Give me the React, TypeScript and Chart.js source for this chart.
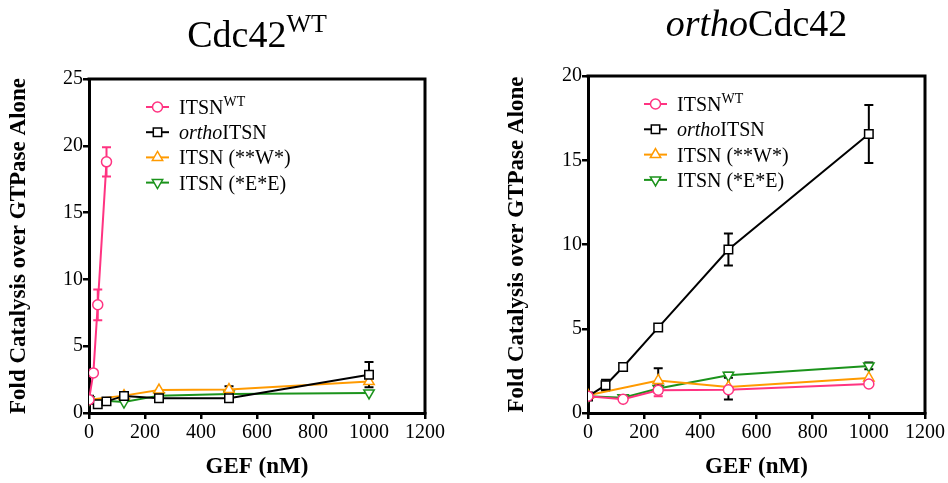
import React, { useEffect, useRef } from 'react';
import { Chart, registerables } from 'chart.js';

Chart.register(...registerables);

const SERIF = '"Liberation Serif", "Times New Roman", serif';
const PINK = '#ff3381';
const ORANGE = '#ff9a00';
const GREEN = '#1b931b';
const BLACK = '#000000';

// ---- Left panel: Cdc42 WT ----
const wtDoseITSNWT = [0, 15.6, 31.25, 62.5];
const wtFoldITSNWT = [1.0, 3.0, 8.1, 18.8];
const wtErrITSNWT = [0, 0, 1.15, 1.1];

const wtDoseOrtho = [0, 31.25, 62.5, 125, 250, 500, 1000];
const wtFoldOrtho = [1.0, 0.65, 0.87, 1.28, 1.1, 1.1, 2.87];
const wtErrOrtho = [0, 0, 0, 0, 0, 0, 0.95];

const wtDoseWmut = [0, 125, 250, 500, 1000];
const wtFoldWmut = [1.0, 1.3, 1.72, 1.75, 2.35];
const wtErrWmut = [0, 0, 0, 0.25, 0];

const wtDoseEmut = [0, 125, 250, 500, 1000];
const wtFoldEmut = [1.0, 0.82, 1.3, 1.42, 1.5];
const wtErrEmut = [0, 0, 0, 0, 0];

// ---- Right panel: orthoCdc42 ----
const orDoseITSNWT = [0, 125, 250, 500, 1000];
const orFoldITSNWT = [1.0, 0.82, 1.35, 1.38, 1.72];
const orErrITSNWT = [0, 0, 0.35, 0, 0];

const orDoseOrtho = [0, 62.5, 125, 250, 500, 1000];
const orFoldOrtho = [0.98, 1.65, 2.73, 5.07, 9.7, 16.56];
const orErrOrtho = [0, 0.32, 0, 0, 0.95, 1.72];

const orDoseWmut = [0, 250, 500, 1000];
const orFoldWmut = [1.05, 1.93, 1.55, 2.08];
const orErrWmut = [0, 0.73, 0.75, 0];

const orDoseEmut = [0, 125, 250, 500, 1000];
const orFoldEmut = [1.0, 0.9, 1.45, 2.24, 2.79];
const orErrEmut = [0, 0, 0, 0.15, 0.2];

const xTicksMax = 1200;
const xStep = 200;
const yStep = 5;

type Part = { t: string; italic?: boolean; sup?: boolean };
const legendLabels: Part[][] = [
  [{ t: 'ITSN' }, { t: 'WT', sup: true }],
  [{ t: 'ortho', italic: true }, { t: 'ITSN' }],
  [{ t: 'ITSN (**W*)' }],
  [{ t: 'ITSN (*E*E)' }],
];
const seriesColors = [PINK, BLACK, ORANGE, GREEN];
const errColors = [PINK, BLACK, BLACK, BLACK];
const seriesStyles = ['circle', 'rect', 'triangle', 'triangleDown'];

function drawMarker(ctx: CanvasRenderingContext2D, style: string, x: number, y: number, color: string) {
  ctx.save();
  ctx.strokeStyle = color;
  ctx.fillStyle = '#ffffff';
  ctx.lineWidth = 1.5;
  ctx.beginPath();
  if (style === 'circle') {
    ctx.arc(x, y, 5, 0, Math.PI * 2);
  } else if (style === 'rect') {
    const s = 4.2;
    ctx.rect(x - s, y - s, 2 * s, 2 * s);
  } else {
    const r = 6;
    const off = style === 'triangleDown' ? Math.PI : 0;
    for (let i = 0; i < 3; i++) {
      const a = off + (i * 2 * Math.PI) / 3;
      const px = x + Math.sin(a) * r;
      const py = y - Math.cos(a) * r;
      if (i === 0) ctx.moveTo(px, py);
      else ctx.lineTo(px, py);
    }
    ctx.closePath();
  }
  ctx.fill();
  ctx.stroke();
  ctx.restore();
}

function drawParts(ctx: CanvasRenderingContext2D, parts: Part[], x: number, baseline: number, size: number, supSize: number, supRaise: number, measureOnly = false) {
  let cx = x;
  for (const p of parts) {
    const fs = p.sup ? supSize : size;
    ctx.font = `${p.italic ? 'italic ' : ''}${fs}px ${SERIF}`;
    const w = ctx.measureText(p.t).width;
    if (!measureOnly) {
      ctx.fillText(p.t, cx, p.sup ? baseline - supRaise : baseline);
    }
    cx += w;
  }
  return cx - x;
}

type Panel = {
  title: Part[];
  titleBaseline: number;
  yMax: number;
  yAxisWidth: number;
  yTitlePad: number;
  padTop: number;
  padRight: number;
  legendX: number;
  legendY: number;
  legendStep: number;
  doses: number[][];
  folds: number[][];
  errs: number[][];
};

const panels: Panel[] = [
  {
    title: [{ t: 'Cdc42' }, { t: 'WT', sup: true }],
    titleBaseline: 46.5,
    yMax: 25,
    yAxisWidth: 89,
    yTitlePad: 5,
    padTop: 79,
    padRight: 49,
    legendX: 146,
    legendY: 107,
    legendStep: 25.2,
    doses: [wtDoseITSNWT, wtDoseOrtho, wtDoseWmut, wtDoseEmut],
    folds: [wtFoldITSNWT, wtFoldOrtho, wtFoldWmut, wtFoldEmut],
    errs: [wtErrITSNWT, wtErrOrtho, wtErrWmut, wtErrEmut],
  },
  {
    title: [{ t: 'ortho', italic: true }, { t: 'Cdc42' }],
    titleBaseline: 35.5,
    yMax: 20,
    yAxisWidth: 114,
    yTitlePad: 29.5,
    padTop: 76,
    padRight: 23,
    legendX: 170,
    legendY: 104,
    legendStep: 25.3,
    doses: [orDoseITSNWT, orDoseOrtho, orDoseWmut, orDoseEmut],
    folds: [orFoldITSNWT, orFoldOrtho, orFoldWmut, orFoldEmut],
    errs: [orErrITSNWT, orErrOrtho, orErrWmut, orErrEmut],
  },
];

function makeChart(canvas: HTMLCanvasElement, p: Panel) {
  const datasets = p.doses.map((xs, i) => ({
    label: legendLabels[i].map((q) => q.t).join(''),
    data: xs.map((x, j) => ({ x, y: p.folds[i][j] })),
    showLine: true,
    borderColor: seriesColors[i],
    backgroundColor: seriesColors[i],
    borderWidth: 2,
    tension: 0,
    fill: false,
    pointStyle: seriesStyles[i] === 'triangleDown' ? 'triangle' : seriesStyles[i],
    pointRotation: seriesStyles[i] === 'triangleDown' ? 180 : 0,
    pointRadius: seriesStyles[i] === 'rect' ? 6 : seriesStyles[i] === 'circle' ? 5 : 6,
    pointBackgroundColor: '#ffffff',
    pointBorderColor: seriesColors[i],
    pointBorderWidth: 1.5,
  }));

  const panelPlugin = {
    id: 'panelDecor',
    beforeDatasetsDraw(chart: any) {
      const ctx: CanvasRenderingContext2D = chart.ctx;
      const xs = chart.scales.x;
      const ys = chart.scales.y;
      ctx.save();
      ctx.lineWidth = 2;
      p.doses.forEach((d, i) => {
        ctx.strokeStyle = errColors[i];
        d.forEach((xv, j) => {
          const e = p.errs[i][j];
          if (!e) return;
          const v = p.folds[i][j];
          const px = xs.getPixelForValue(xv);
          const t = ys.getPixelForValue(v + e);
          const b = ys.getPixelForValue(Math.max(v - e, 0));
          ctx.beginPath();
          ctx.moveTo(px, t);
          ctx.lineTo(px, b);
          ctx.moveTo(px - 4.5, t);
          ctx.lineTo(px + 4.5, t);
          ctx.moveTo(px - 4.5, b);
          ctx.lineTo(px + 4.5, b);
          ctx.stroke();
        });
      });
      ctx.restore();
    },
    afterDraw(chart: any) {
      const ctx: CanvasRenderingContext2D = chart.ctx;
      const a = chart.chartArea;
      ctx.save();
      // frame top & right
      ctx.strokeStyle = BLACK;
      ctx.lineWidth = 3;
      ctx.beginPath();
      ctx.moveTo(a.left - 1.5, a.top);
      ctx.lineTo(a.right, a.top);
      ctx.lineTo(a.right, a.bottom + 1.5);
      ctx.stroke();

      // title
      ctx.fillStyle = BLACK;
      ctx.textBaseline = 'alphabetic';
      ctx.textAlign = 'left';
      const tw = drawParts(ctx, p.title, 0, 0, 38, 26, 15, true);
      const cx = (a.left + a.right) / 2;
      drawParts(ctx, p.title, cx - tw / 2, p.titleBaseline, 38, 26, 15);

      // legend
      legendLabels.forEach((parts, i) => {
        const y = p.legendY + i * p.legendStep;
        ctx.strokeStyle = seriesColors[i];
        ctx.lineWidth = 2;
        ctx.beginPath();
        ctx.moveTo(p.legendX, y);
        ctx.lineTo(p.legendX + 23, y);
        ctx.stroke();
        drawMarker(ctx, seriesStyles[i], p.legendX + 11.5, y, seriesColors[i]);
        ctx.fillStyle = BLACK;
        drawParts(ctx, parts, p.legendX + 33, y + 7, 20, 14, 8);
      });
      ctx.restore();
    },
  };

  return new Chart(canvas, {
    type: 'scatter',
    data: { datasets: datasets as any },
    options: {
      animation: false,
      responsive: false,
      devicePixelRatio: 1,
      layout: { padding: { top: p.padTop, right: p.padRight, left: 0, bottom: 0 } },
      plugins: { legend: { display: false }, tooltip: { enabled: false } },
      scales: {
        x: {
          type: 'linear',
          min: 0,
          max: xTicksMax,
          ticks: {
            stepSize: xStep,
            autoSkip: false,
            maxRotation: 0,
            color: BLACK,
            padding: 2,
            font: { family: SERIF, size: 20 },
            callback: (v: any) => String(v),
          },
          grid: {
            drawOnChartArea: false,
            drawTicks: true,
            tickLength: 6,
            color: BLACK,
            lineWidth: 2.5,
          },
          border: { color: BLACK, width: 3 },
          title: {
            display: true,
            text: 'GEF (nM)',
            color: BLACK,
            font: { family: SERIF, size: 23, weight: 'bold' },
            padding: { top: 0, bottom: 2.5 },
          },
          afterFit(scale: any) {
            scale.height = 70;
          },
        },
        y: {
          type: 'linear',
          min: 0,
          max: p.yMax,
          ticks: {
            stepSize: yStep,
            color: BLACK,
            padding: 0,
            font: { family: SERIF, size: 20 },
            callback: (v: any) => String(v),
          },
          grid: {
            drawOnChartArea: false,
            drawTicks: true,
            tickLength: 6,
            color: BLACK,
            lineWidth: 2.5,
          },
          border: { color: BLACK, width: 3 },
          title: {
            display: true,
            text: 'Fold Catalysis over GTPase Alone',
            color: BLACK,
            font: { family: SERIF, size: 23, weight: 'bold' },
            padding: { top: p.yTitlePad, bottom: 0 },
          },
          afterFit(scale: any) {
            scale.width = p.yAxisWidth;
          },
        },
      },
    },
    plugins: [panelPlugin as any],
  });
}

export default function App() {
  const leftRef = useRef<HTMLCanvasElement>(null);
  const rightRef = useRef<HTMLCanvasElement>(null);

  useEffect(() => {
    const charts: Chart[] = [];
    if (leftRef.current) charts.push(makeChart(leftRef.current, panels[0]));
    if (rightRef.current) charts.push(makeChart(rightRef.current, panels[1]));
    return () => charts.forEach((c) => c.destroy());
  }, []);

  return (
    <div style={{ position: 'fixed', left: 0, top: 0, width: 948, height: 483, background: '#ffffff' }}>
      <canvas ref={leftRef} width={474} height={483} style={{ position: 'absolute', left: 0, top: 0, width: 474, height: 483 }} />
      <canvas ref={rightRef} width={474} height={483} style={{ position: 'absolute', left: 474, top: 0, width: 474, height: 483 }} />
    </div>
  );
}
